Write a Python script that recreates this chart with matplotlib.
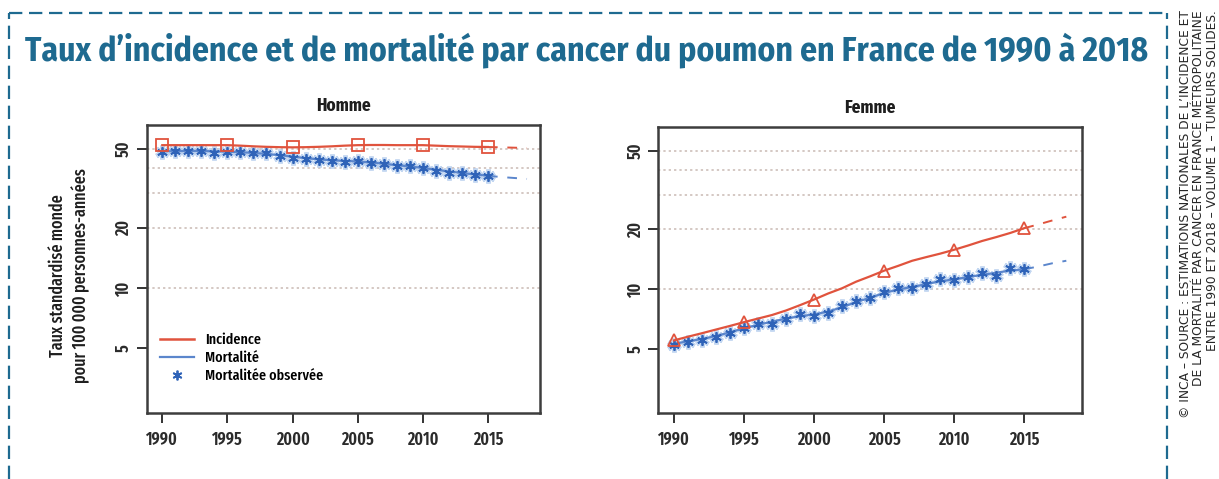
import matplotlib
matplotlib.use("Agg")
import matplotlib.pyplot as plt
import numpy as np
from matplotlib.lines import Line2D
from matplotlib.ticker import FixedLocator, NullLocator

# %% Data
years = list(range(1990, 2016))
proj_years = [2015, 2016, 2017, 2018]
mark_years = [1990, 1995, 2000, 2005, 2010, 2015]

# Homme
h_inc_line = [52.3, 52.3, 52.3, 52.3, 52.3, 52.3, 52.0, 51.6, 51.3, 51.1, 51.0,
              51.1, 51.3, 51.6, 52.0, 52.3, 52.4, 52.4, 52.3, 52.3, 52.3,
              52.0, 51.7, 51.5, 51.3, 51.2]
h_inc_marks = [52.3, 52.3, 51.0, 52.3, 52.3, 51.2]
h_inc_proj = [51.2, 51.0, 50.8, 50.6]
h_mort_line = [48.7, 48.8, 48.9, 48.9, 48.7, 48.5, 48.2, 47.8, 47.3, 46.6, 45.8,
               45.0, 44.4, 43.9, 43.6, 43.3, 42.8, 42.2, 41.5, 40.9, 40.2,
               39.4, 38.6, 37.9, 37.3, 36.7]
h_mort_obs = [48.5, 48.9, 48.9, 49.0, 47.9, 48.5, 48.3, 47.5, 47.5, 46.4, 45.3,
              44.5, 44.0, 43.4, 43.2, 43.6, 42.5, 42.1, 41.1, 41.1, 40.1,
              39.0, 38.1, 37.8, 37.2, 36.7]
h_mort_proj = [36.7, 36.2, 35.8, 35.4]

# Femme
f_inc_line = [5.51, 5.75, 5.99, 6.25, 6.52, 6.81, 7.1, 7.4, 7.8, 8.3, 8.86,
              9.5, 10.1, 10.9, 11.6, 12.39, 13.1, 13.9, 14.5, 15.1, 15.8,
              16.6, 17.5, 18.3, 19.2, 20.3]
f_inc_marks = [5.51, 6.81, 8.86, 12.39, 15.8, 20.3]
f_inc_proj = [20.3, 21.2, 22.2, 23.2]
f_mort_line = [5.3, 5.45, 5.6, 5.8, 6.05, 6.35, 6.6, 6.85, 7.1, 7.3, 7.45,
               7.7, 8.1, 8.6, 9.05, 9.55, 9.95, 10.25, 10.6, 10.95, 11.2,
               11.5, 11.8, 12.1, 12.4, 12.6]
f_mort_obs = [5.22, 5.41, 5.51, 5.72, 5.99, 6.34, 6.65, 6.69, 7.07, 7.45, 7.29,
              7.58, 8.26, 8.74, 9.03, 9.66, 10.09, 10.16, 10.64, 11.2, 11.1,
              11.5, 12.0, 11.7, 12.8, 12.6]
f_mort_proj = [12.6, 13.0, 13.5, 13.9]

yticks = [5, 10, 20, 50]
grid_levels = [10, 20, 30, 40, 50]
xticks = [1990, 1995, 2000, 2005, 2010, 2015]

# %% Style
RED = '#e0533d'
BLUE = '#5b86cc'
STAR = '#2f63b8'
HALO = '#b5cdee'
TEAL = '#1e6a90'
cond = ['Fira Sans Extra Condensed', 'DejaVu Sans']
title_font = ['Fira Sans Condensed', 'DejaVu Sans']

fig = plt.figure(figsize=(12.19, 4.79), dpi=100)
fig.patch.set_facecolor('white')

ax_h = fig.add_axes([0.1203, 0.1378, 0.3227, 0.6012])
ax_f = fig.add_axes([0.5400, 0.1378, 0.3474, 0.5977])


def draw_panel(ax, inc_line, inc_marks, inc_proj, inc_marker,
               mort_line, mort_obs, mort_proj, title, xlim):
    ax.set_yscale('log')
    for g in grid_levels:
        ax.axhline(g, color='#c9b9b3', lw=1.1, ls=(0, (1.5, 2.0)), zorder=0)
    # mortality
    ax.plot(years, mort_obs, ls='none', marker=(6, 2, 0), ms=10, mew=3.4,
            color=HALO, alpha=0.8, zorder=2)
    ax.plot(years, mort_line, color=BLUE, lw=1.6, zorder=3)
    ax.plot(years, mort_obs, ls='none', marker=(6, 2, 0), ms=7.5, mew=1.3,
            color=STAR, zorder=4)
    ax.plot(proj_years, mort_proj, color=BLUE, lw=1.4, ls=(0, (5, 5)), zorder=3)
    # incidence
    ax.plot(years, inc_line, color=RED, lw=1.6, zorder=5)
    ax.plot(mark_years, inc_marks, ls='none', marker=inc_marker, ms=8,
            mfc='none', mec=RED, mew=1.3, zorder=6)
    ax.plot(proj_years, inc_proj, color=RED, lw=1.4, ls=(0, (5, 5)), zorder=5)

    ax.set_xlim(*xlim)
    ax.set_ylim(2.37, 66)
    ax.yaxis.set_major_locator(FixedLocator(yticks))
    ax.yaxis.set_minor_locator(NullLocator())
    ax.set_yticklabels([str(t) for t in yticks], rotation=90, va='center',
                       family=cond, fontsize=12.5, fontweight=600,
                       color='#2b2b2b')
    ax.set_xticks(xticks)
    ax.set_xticklabels([str(t) for t in xticks], family=cond, fontsize=12.5,
                       fontweight=600, color='#2b2b2b')
    ax.tick_params(axis='both', direction='out', length=7, width=1.4,
                   color='#333333', pad=6)
    ax.tick_params(axis='y', pad=3)
    for s in ax.spines.values():
        s.set_linewidth(1.8)
        s.set_color('#3d3d3d')
    ax.set_title(title, family=cond, fontsize=13.5, fontweight='bold',
                 color='#1e1e1e', pad=10)


draw_panel(ax_h, h_inc_line, h_inc_marks, h_inc_proj, 's',
           h_mort_line, h_mort_obs, h_mort_proj, 'Homme', (1988.8, 2019.0))
draw_panel(ax_f, f_inc_line, f_inc_marks, f_inc_proj, '^',
           f_mort_line, f_mort_obs, f_mort_proj, 'Femme', (1988.88, 2019.1))

# Legend in Homme panel
handles = [
    Line2D([], [], color=RED, lw=1.8),
    Line2D([], [], color=BLUE, lw=1.6),
    Line2D([], [], ls='none', marker=(6, 2, 0), ms=7, mew=1.3, color=STAR),
]
ax_h.legend(handles, ['Incidence', 'Mortalité', 'Mortalitée observée'],
            loc='lower left', bbox_to_anchor=(0.0, 0.055), frameon=False,
            prop={'family': cond, 'size': 11, 'weight': 500},
            handlelength=2.2, handletextpad=0.7, labelspacing=0.25,
            borderaxespad=0.5)

# Y label
fig.text(0.057, 0.425, 'Taux standardisé monde\npour 100 000 personnes-années',
         rotation=90, ha='center', va='center', family=cond, fontsize=12.5,
         fontweight=500, color='#1e1e1e', linespacing=1.25)

# Title, fitted to the width it takes in the reference
title = fig.text(0.0205, 0.895,
                 'Taux d’incidence et de mortalité par cancer du poumon en France de 1990 à 2018',
                 ha='left', va='center', family=title_font, fontsize=26,
                 fontweight='bold', color=TEAL)
fig.canvas.draw()
w = title.get_window_extent(fig.canvas.get_renderer()).width
title.set_fontsize(26 * 1123 / w)

# Source, rotated on the right
fig.text(0.9835, 0.978,
         '© INCA – SOURCE : ESTIMATIONS NATIONALES DE L’INCIDENCE ET\n'
         'DE LA MORTALITÉ PAR CANCER EN FRANCE MÉTROPOLITAINE\n'
         'ENTRE 1990 ET 2018 – VOLUME 1 – TUMEURS SOLIDES.',
         rotation=90, ha='center', va='top', multialignment='right',
         family='DejaVu Sans', fontsize=8.8, color='#262626',
         linespacing=1.05)

# Dashed frame
frame_kw = dict(color=TEAL, lw=1.6, ls=(0, (6, 3)), transform=fig.transFigure,
                clip_on=False)
fig.add_artist(Line2D([0.007, 0.957], [0.973, 0.973], **frame_kw))
fig.add_artist(Line2D([0.007, 0.007], [0.0, 0.973], **frame_kw))
fig.add_artist(Line2D([0.957, 0.957], [0.0, 0.973], **frame_kw))

fig.savefig('out.png', dpi=100, facecolor='white')
